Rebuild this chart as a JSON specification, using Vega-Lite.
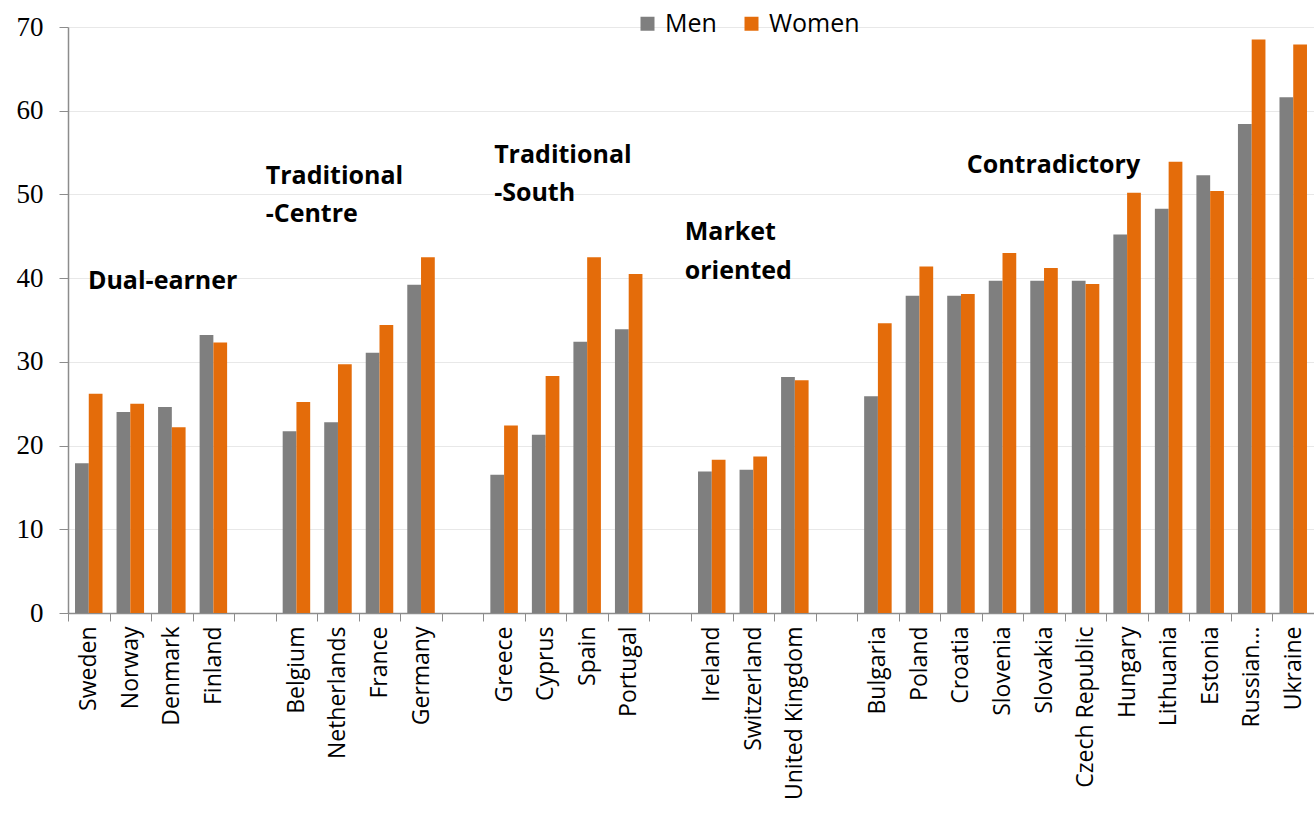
{
  "$schema": "https://vega.github.io/schema/vega-lite/v6.json",
  "width": 1246,
  "height": 586,
  "autosize": {"type": "none"},
  "padding": {"left": 68, "top": 27, "right": 0, "bottom": 215},
  "background": "white",
  "config": {"view": {"stroke": null}},
  "datasets": {
    "bars": [
      {"country": "Sweden", "sex": "Men", "value": 17.9}, {"country": "Sweden", "sex": "Women", "value": 26.2},
      {"country": "Norway", "sex": "Men", "value": 24.0}, {"country": "Norway", "sex": "Women", "value": 25.0},
      {"country": "Denmark", "sex": "Men", "value": 24.6}, {"country": "Denmark", "sex": "Women", "value": 22.2},
      {"country": "Finland", "sex": "Men", "value": 33.2}, {"country": "Finland", "sex": "Women", "value": 32.3},
      {"country": "Belgium", "sex": "Men", "value": 21.7}, {"country": "Belgium", "sex": "Women", "value": 25.2},
      {"country": "Netherlands", "sex": "Men", "value": 22.8}, {"country": "Netherlands", "sex": "Women", "value": 29.7},
      {"country": "France", "sex": "Men", "value": 31.1}, {"country": "France", "sex": "Women", "value": 34.4},
      {"country": "Germany", "sex": "Men", "value": 39.2}, {"country": "Germany", "sex": "Women", "value": 42.5},
      {"country": "Greece", "sex": "Men", "value": 16.5}, {"country": "Greece", "sex": "Women", "value": 22.4},
      {"country": "Cyprus", "sex": "Men", "value": 21.3}, {"country": "Cyprus", "sex": "Women", "value": 28.3},
      {"country": "Spain", "sex": "Men", "value": 32.4}, {"country": "Spain", "sex": "Women", "value": 42.5},
      {"country": "Portugal", "sex": "Men", "value": 33.9}, {"country": "Portugal", "sex": "Women", "value": 40.5},
      {"country": "Ireland", "sex": "Men", "value": 16.9}, {"country": "Ireland", "sex": "Women", "value": 18.3},
      {"country": "Switzerland", "sex": "Men", "value": 17.1}, {"country": "Switzerland", "sex": "Women", "value": 18.7},
      {"country": "United Kingdom", "sex": "Men", "value": 28.2}, {"country": "United Kingdom", "sex": "Women", "value": 27.8},
      {"country": "Bulgaria", "sex": "Men", "value": 25.9}, {"country": "Bulgaria", "sex": "Women", "value": 34.6},
      {"country": "Poland", "sex": "Men", "value": 37.9}, {"country": "Poland", "sex": "Women", "value": 41.4},
      {"country": "Croatia", "sex": "Men", "value": 37.9}, {"country": "Croatia", "sex": "Women", "value": 38.1},
      {"country": "Slovenia", "sex": "Men", "value": 39.7}, {"country": "Slovenia", "sex": "Women", "value": 43.0},
      {"country": "Slovakia", "sex": "Men", "value": 39.7}, {"country": "Slovakia", "sex": "Women", "value": 41.2},
      {"country": "Czech Republic", "sex": "Men", "value": 39.7}, {"country": "Czech Republic", "sex": "Women", "value": 39.3},
      {"country": "Hungary", "sex": "Men", "value": 45.2}, {"country": "Hungary", "sex": "Women", "value": 50.2},
      {"country": "Lithuania", "sex": "Men", "value": 48.3}, {"country": "Lithuania", "sex": "Women", "value": 53.9},
      {"country": "Estonia", "sex": "Men", "value": 52.3}, {"country": "Estonia", "sex": "Women", "value": 50.4},
      {"country": "Russian...", "sex": "Men", "value": 58.4}, {"country": "Russian...", "sex": "Women", "value": 68.5},
      {"country": "Ukraine", "sex": "Men", "value": 61.6}, {"country": "Ukraine", "sex": "Women", "value": 67.9}
    ],
    "notes": [
      {"label": "Dual-earner", "pos": 0.48, "value": 38.7},
      {"label": "Traditional", "pos": 4.76, "value": 51.25},
      {"label": "-Centre", "pos": 4.76, "value": 46.67},
      {"label": "Traditional", "pos": 10.26, "value": 53.8},
      {"label": "-South", "pos": 10.26, "value": 49.2},
      {"label": "Market", "pos": 14.85, "value": 44.5},
      {"label": "oriented", "pos": 14.85, "value": 39.9},
      {"label": "Contradictory", "pos": 21.64, "value": 52.6}
    ]
  },
  "layer": [
    {
      "data": {"name": "bars"},
      "mark": {"type": "bar"},
      "encoding": {
        "x": {
          "field": "country", "type": "nominal",
          "scale": {
            "domain": ["Sweden","Norway","Denmark","Finland"," ","Belgium","Netherlands","France","Germany","  ","Greece","Cyprus","Spain","Portugal","   ","Ireland","Switzerland","United Kingdom","    ","Bulgaria","Poland","Croatia","Slovenia","Slovakia","Czech Republic","Hungary","Lithuania","Estonia","Russian...","Ukraine"],
            "paddingInner": 0, "paddingOuter": 0
          },
          "axis": {
            "title": null, "labelAngle": -90, "tickBand": "extent", "ticks": true, "tickSize": 8,
            "tickColor": "#8c8c8c", "domainColor": "#8c8c8c", "domainWidth": 1.5,
            "labelFont": "Open Sans", "labelFontSize": 23, "labelColor": "#000000", "labelPadding": 5,
            "grid": false
          }
        },
        "xOffset": {"field": "sex", "type": "nominal", "scale": {"domain": ["Men", "Women"], "paddingOuter": 0.51, "paddingInner": 0}},
        "y": {
          "field": "value", "type": "quantitative",
          "scale": {"domain": [0, 70], "nice": false},
          "axis": {
            "title": null, "values": [0, 10, 20, 30, 40, 50, 60, 70], "grid": true, "gridColor": "#e8e8e8",
            "domainColor": "#8c8c8c", "domainWidth": 1.5, "tickColor": "#8c8c8c", "tickSize": 9,
            "labelFont": "Liberation Serif", "labelFontSize": 27, "labelColor": "#000000", "labelPadding": 16
          }
        },
        "color": {
          "field": "sex", "type": "nominal",
          "scale": {"domain": ["Men", "Women"], "range": ["#7f7f7f", "#e46c0a"]},
          "legend": {
            "title": null, "orient": "none", "legendX": 567, "legendY": -16, "direction": "horizontal",
            "symbolType": "square", "symbolSize": 196, "symbolStrokeWidth": 0, "labelFont": "Open Sans",
            "labelFontSize": 25, "labelColor": "#000000", "labelOffset": 5, "columnPadding": 22, "padding": 0
          }
        }
      }
    },
    {
      "data": {"name": "notes"},
      "mark": {"type": "text", "align": "left", "baseline": "alphabetic", "font": "Open Sans", "fontSize": 25, "fontWeight": "bold", "color": "#000000"},
      "encoding": {
        "x": {"field": "pos", "type": "quantitative", "scale": {"domain": [0, 30], "nice": false, "zero": false}, "axis": null},
        "y": {"field": "value", "type": "quantitative"},
        "text": {"field": "label"}
      }
    }
  ],
  "resolve": {"scale": {"x": "independent"}}
}
